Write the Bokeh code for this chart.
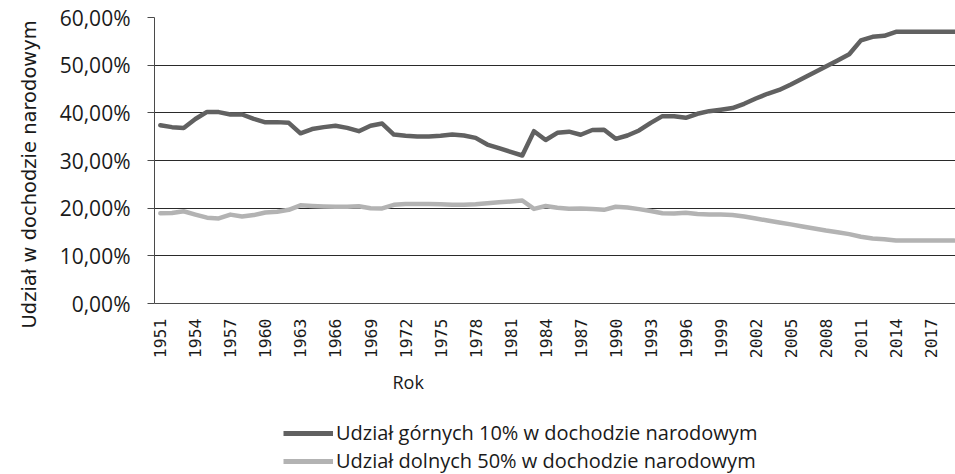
import math
from bokeh.plotting import figure
from bokeh.layouts import column
from bokeh.models import (Range1d, FixedTicker, CustomJSTickFormatter, Legend,
                          LegendItem, Title, ColumnDataSource)
from bokeh.embed import file_html
from bokeh.resources import INLINE

years = list(range(1951, 2020))

top10 = [37.4, 37.0, 36.8, 38.7, 40.2, 40.15, 39.65, 39.65, 38.75, 38.0,
         38.05, 37.9, 35.7, 36.6, 37.0, 37.3, 36.85, 36.15, 37.3, 37.75,
         35.45, 35.2, 35.05, 35.05, 35.2, 35.45, 35.25, 34.75, 33.35, 32.6,
         31.8, 31.05, 36.15, 34.3, 35.8, 36.05, 35.4, 36.4, 36.45, 34.55,
         35.25, 36.3, 37.9, 39.3, 39.3, 38.95, 39.8, 40.35, 40.65, 41.0,
         41.9, 43.0, 44.0, 44.8, 45.95, 47.2, 48.45, 49.7, 51.0, 52.3,
         55.2, 55.95, 56.15, 57.0, 57.0, 57.0, 57.0, 57.0, 57.0]

bottom50 = [18.95, 19.0, 19.35, 18.65, 18.0, 17.85, 18.65, 18.25, 18.55, 19.1,
            19.25, 19.65, 20.6, 20.45, 20.35, 20.3, 20.3, 20.4, 20.0, 19.95,
            20.7, 20.85, 20.9, 20.85, 20.8, 20.7, 20.7, 20.8, 21.05, 21.25,
            21.4, 21.6, 19.85, 20.45, 20.1, 19.9, 19.95, 19.8, 19.65, 20.3,
            20.15, 19.8, 19.4, 18.95, 18.9, 19.05, 18.8, 18.65, 18.65, 18.55,
            18.25, 17.85, 17.4, 17.0, 16.6, 16.15, 15.75, 15.3, 14.95, 14.55,
            14.0, 13.65, 13.5, 13.2, 13.2, 13.2, 13.2, 13.2, 13.2]

x_ticks = list(range(1951, 2018, 3))
y_ticks = [0, 10, 20, 30, 40, 50, 60]

series_names = ["Udział górnych 10% w dochodzie narodowym",
                "Udział dolnych 50% w dochodzie narodowym"]
series_colors = ["#616161", "#b3b3b3"]
x_title = "Rok"
y_title = "Udział w dochodzie narodowym"

src = ColumnDataSource(data=dict(year=years, top=top10, bottom=bottom50))

p = figure(width=955, height=410, output_backend="svg", toolbar_location=None,
           x_range=Range1d(1950.5, 2019.1), y_range=Range1d(0, 60),
           min_border_left=154, min_border_right=0, min_border_top=17,
           min_border_bottom=107)
p.outline_line_color = None
p.background_fill_color = "white"
p.border_fill_color = "white"

p.line("year", "top", source=src, line_color=series_colors[0], line_width=4.5,
       line_join="round", line_cap="round")
p.line("year", "bottom", source=src, line_color=series_colors[1], line_width=4.5,
       line_join="round", line_cap="round")

# grid
p.xgrid.visible = False
p.ygrid.ticker = FixedTicker(ticks=y_ticks)
p.ygrid.grid_line_color = "#2a2a2a"
p.ygrid.grid_line_width = 1

# y axis
ya = p.yaxis[0]
ya.ticker = FixedTicker(ticks=y_ticks)
ya.formatter = CustomJSTickFormatter(code="return tick.toFixed(2).replace('.', ',') + '%';")
ya.major_label_text_font = "Open Sans"
ya.major_label_text_font_size = "21px"
ya.major_label_text_color = "#1a1a1a"
ya.axis_line_color = "#4a4a4a"
ya.major_tick_line_color = "#4a4a4a"
ya.major_tick_out = 7
ya.major_tick_in = 0
ya.minor_tick_line_color = None
ya.major_label_standoff = 17

# y axis title
p.add_layout(Title(text=y_title, align="left", offset=-25, standoff=31,
                   text_font="DejaVu Sans", text_font_size="19.5px",
                   text_font_style="normal", text_color="#1a1a1a"), "left")

# x axis
xa = p.xaxis[0]
xa.ticker = FixedTicker(ticks=x_ticks)
xa.major_label_orientation = math.pi / 2
xa.major_label_text_font = "DejaVu Sans Mono"
xa.major_label_text_font_size = "16.5px"
xa.major_label_text_color = "#1a1a1a"
xa.axis_line_color = "#4a4a4a"
xa.major_tick_line_color = None
xa.minor_tick_line_color = None
xa.major_tick_out = 0
xa.major_label_standoff = 15

# x axis title (placed left of centre, as in the reference)
p.add_layout(Title(text=x_title, align="left", offset=238, standoff=12,
                   text_font="Open Sans", text_font_size="18px",
                   text_font_style="normal", text_color="#1a1a1a"), "below")

# legend strip below the chart (same data, drawn outside its view; only the key shows)
lg = figure(width=955, height=64, output_backend="svg", toolbar_location=None,
            x_range=Range1d(0, 1), y_range=Range1d(0, 1),
            min_border=0, min_border_left=0, min_border_right=0,
            min_border_top=0, min_border_bottom=0)
lg.axis.visible = False
lg.grid.visible = False
lg.outline_line_color = None
lg.border_fill_color = "white"
lg.background_fill_color = "white"
k1 = lg.line("year", "top", source=src, line_color=series_colors[0], line_width=5)
k2 = lg.line("year", "bottom", source=src, line_color=series_colors[1], line_width=5)

legend = Legend(items=[LegendItem(label=series_names[0], renderers=[k1]),
                       LegendItem(label=series_names[1], renderers=[k2])],
                location=(129, 0), orientation="vertical",
                label_text_font="Open Sans", label_text_font_size="20px",
                label_text_color="#1a1a1a", glyph_width=50, glyph_height=22,
                label_height=22, label_standoff=3, spacing=1, padding=0,
                margin=0, background_fill_alpha=0, border_line_color=None)
lg.add_layout(legend, "center")

layout = column(p, lg, spacing=0)
open("out.html", "w").write(file_html(layout, INLINE))
